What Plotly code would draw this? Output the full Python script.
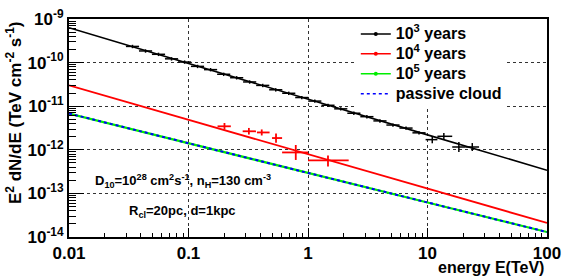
import plotly.graph_objects as go

# ---- model curves (TeV, TeV cm^-2 s^-1) ----
E_model = [0.01, 0.1, 1, 10, 100]
flux_1e3yr = [6.3e-10, 9.5e-11, 1.45e-11, 2.2e-12, 3.4e-13]
flux_1e4yr = [3.0e-11, 4.9e-12, 7.9e-13, 1.3e-13, 2.1e-14]
flux_1e5yr = [6.8e-12, 1.4e-12, 2.95e-13, 6.2e-14, 1.3e-14]
flux_passive = [6.8e-12, 1.4e-12, 2.95e-13, 6.2e-14, 1.3e-14]

# ---- black data, low energies ----
E_black = [0.034, 0.0437, 0.0561, 0.0721, 0.0927, 0.119, 0.153, 0.197, 0.253,
           0.325, 0.418, 0.537, 0.690, 0.887, 1.14, 1.47, 1.88, 2.42, 3.11,
           4.00, 5.14, 6.61, 8.49]
F_black = [2.35e-10, 1.85e-10, 1.55e-10, 1.22e-10, 1.03e-10, 8.2e-11, 6.9e-11,
           5.4e-11, 4.5e-11, 3.6e-11, 3.0e-11, 2.38e-11, 1.98e-11, 1.58e-11,
           1.31e-11, 1.05e-11, 8.7e-12, 6.9e-12, 5.75e-12, 4.6e-12, 3.7e-12,
           3.15e-12, 2.45e-12]

# ---- black data, high energies ----
E_hess = [10.96, 13.7, 18.3, 23.7]
E_hess_lo = [9.64, 12.1, 16.1, 20.9]
E_hess_hi = [12.1, 16.1, 20.9, 27.0]
F_hess = [1.71e-12, 2.04e-12, 1.16e-12, 1.16e-12]
F_hess_lo = [1.41e-12, 1.71e-12, 0.89e-12, 0.94e-12]
F_hess_hi = [2.07e-12, 2.43e-12, 1.51e-12, 1.43e-12]

# ---- red data ----
E_red = [0.20, 0.32, 0.41, 0.54, 0.79, 1.47]
E_red_lo = [0.175, 0.284, 0.374, 0.50, 0.607, 1.0]
E_red_hi = [0.226, 0.367, 0.477, 0.607, 1.0, 2.19]
F_red = [3.46e-12, 2.66e-12, 2.5e-12, 1.86e-12, 8.7e-13, 5.7e-13]
F_red_lo = [2.91e-12, 2.24e-12, 2.13e-12, 1.45e-12, 5.85e-13, 4.15e-13]
F_red_hi = [4.12e-12, 3.17e-12, 2.93e-12, 2.38e-12, 1.29e-12, 7.43e-13]

x_ticks = [0.01, 0.1, 1, 10, 100]
x_ticktext = ["0.01", "0.1", "1", "10", "100"]
y_ticks = [1e-14, 1e-13, 1e-12, 1e-11, 1e-10, 1e-9]
y_ticktext = ["10<sup>-14</sup>", "10<sup>-13</sup>", "10<sup>-12</sup>",
              "10<sup>-11</sup>", "10<sup>-10</sup>", "10<sup>-9</sup>"]

FONT = "Liberation Sans, Arial, sans-serif"

fig = go.Figure()

def diff(a, b):
    return [x - y for x, y in zip(a, b)]

# model lines
fig.add_trace(go.Scatter(x=E_model, y=flux_1e5yr, mode="lines",
                         line=dict(color="#00ee00", width=2.2), showlegend=False))
fig.add_trace(go.Scatter(x=E_model, y=flux_passive, mode="lines",
                         line=dict(color="#0000ff", width=2, dash="3px,3px"),
                         showlegend=False))
fig.add_trace(go.Scatter(x=E_model, y=flux_1e4yr, mode="lines",
                         line=dict(color="#ff0000", width=1.8), showlegend=False))
fig.add_trace(go.Scatter(x=E_model, y=flux_1e3yr, mode="lines",
                         line=dict(color="black", width=1.6), showlegend=False))

# data points
fig.add_trace(go.Scatter(
    x=E_black, y=F_black, mode="markers", marker=dict(size=1, color="black"),
    error_x=dict(type="percent", symmetric=False, value=13.5, valueminus=11.9,
                 color="black", thickness=1.5, width=0),
    error_y=dict(type="percent", value=9, color="black", thickness=1.5, width=0),
    showlegend=False))
fig.add_trace(go.Scatter(
    x=E_hess, y=F_hess, mode="markers", marker=dict(size=1, color="black"),
    error_x=dict(type="data", symmetric=False, array=diff(E_hess_hi, E_hess),
                 arrayminus=diff(E_hess, E_hess_lo), color="black",
                 thickness=1.5, width=0),
    error_y=dict(type="data", symmetric=False, array=diff(F_hess_hi, F_hess),
                 arrayminus=diff(F_hess, F_hess_lo), color="black",
                 thickness=1.5, width=0),
    showlegend=False))
fig.add_trace(go.Scatter(
    x=E_red, y=F_red, mode="markers", marker=dict(size=1, color="red"),
    error_x=dict(type="data", symmetric=False, array=diff(E_red_hi, E_red),
                 arrayminus=diff(E_red, E_red_lo), color="red",
                 thickness=1.8, width=0),
    error_y=dict(type="data", symmetric=False, array=diff(F_red_hi, F_red),
                 arrayminus=diff(F_red, F_red_lo), color="red",
                 thickness=1.8, width=0),
    showlegend=False))

# legend entries
legend_items = [("10<sup>3</sup> years", "black", "solid", "lines+markers"),
                ("10<sup>4</sup> years", "#ff0000", "solid", "lines+markers"),
                ("10<sup>5</sup> years", "#00ee00", "solid", "lines+markers"),
                ("passive cloud", "#0000ff", "dot", "lines")]
for name, col, dash, mode in legend_items:
    fig.add_trace(go.Scatter(
        x=[None], y=[None], mode=mode,
        name='<span style="font-size:16px">' + name + '</span>',
        line=dict(color=col, width=1.5, dash=dash),
        marker=dict(size=4, color=col)))

fig.update_layout(
    width=581, height=279,
    margin=dict(l=69, r=34, t=19, b=42, autoexpand=False),
    paper_bgcolor="white", plot_bgcolor="white",
    font=dict(family=FONT, color="black"),
    legend=dict(x=0.6, xanchor="left", y=1, yanchor="top",
                bgcolor="white", borderwidth=0,
                font=dict(family=FONT, size=13, weight="bold"),
                tracegroupgap=0, itemwidth=30),
    annotations=[
        dict(text="<b>D<sub>10</sub>=10<sup>28</sup> cm<sup>2</sup>s<sup>-1</sup>, n<sub>H</sub>=130 cm<sup>-3</sup></b>",
             xref="paper", yref="paper", x=0.05, y=0.258, xanchor="left",
             yanchor="middle", showarrow=False, font=dict(size=13, family=FONT)),
        dict(text="<b>R<sub>cl</sub>=20pc, d=1kpc</b>",
             xref="paper", yref="paper", x=0.121, y=0.116, xanchor="left",
             yanchor="middle", showarrow=False, font=dict(size=13, family=FONT)),
        dict(text="<b>energy E(TeV)</b>", xref="paper", yref="paper",
             x=0.998, y=-0.142, xanchor="right", yanchor="middle",
             showarrow=False, font=dict(size=16, family=FONT)),
        dict(text="<b>E<sup>2</sup> dN/dE (TeV cm<sup>-2</sup> s<sup>-1</sup>)</b>",
             xref="paper", yref="paper", x=-0.115, y=0.569, xanchor="center",
             yanchor="middle", textangle=-90, showarrow=False,
             font=dict(size=17, family=FONT)),
    ],
)

fig.update_xaxes(type="log", range=[-2, 2], tickmode="array", tickvals=x_ticks,
                 ticktext=x_ticktext, ticks="inside", ticklen=9, tickwidth=1,
                 tickcolor="black", automargin=False,
                 tickfont=dict(size=17, family=FONT, weight="bold"),
                 showline=True, linewidth=2, linecolor="black", mirror=True,
                 showgrid=True, gridcolor="#333", griddash="dot", gridwidth=1,
                 minor=dict(ticks="inside", ticklen=4, tickcolor="black",
                            dtick="D1", showgrid=False),
                 zeroline=False)
fig.update_yaxes(type="log", range=[-14, -9], tickmode="array", tickvals=y_ticks,
                 ticktext=y_ticktext, ticks="inside", ticklen=15, tickwidth=1,
                 tickcolor="black", automargin=False,
                 tickfont=dict(size=17, family=FONT, weight="bold"),
                 showline=True, linewidth=2, linecolor="black", mirror=True,
                 showgrid=True, gridcolor="#333", griddash="dot", gridwidth=1,
                 minor=dict(ticks="inside", ticklen=7, tickcolor="black",
                            dtick="D1", showgrid=False),
                 zeroline=False)

fig.write_html("out.html", config={"displayModeBar": False},
               post_script="document.body.style.margin='0';")
